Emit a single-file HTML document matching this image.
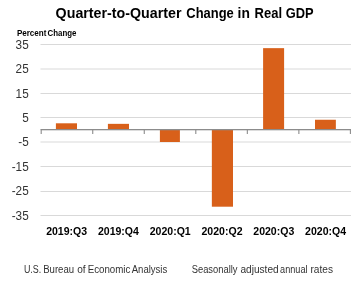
<!DOCTYPE html>
<html><head><meta charset="utf-8"><style>
html,body{margin:0;padding:0;background:#fff;}
svg{display:block;will-change:transform;}
text{font-family:"Liberation Sans",sans-serif;fill:#000;}
.t{font-weight:bold;font-size:15px;}
.pc{font-weight:bold;font-size:8.5px;}
.yl{font-size:12.8px;fill:#333;}
.cl{font-weight:bold;font-size:10.5px;}
.ft{font-size:10px;fill:#333;}
</style></head><body>
<svg width="361" height="282" viewBox="0 0 361 282">
<rect width="361" height="282" fill="#fff"/>
<text x="55.6" y="17.65" class="t" textLength="125.9" lengthAdjust="spacingAndGlyphs">Quarter-to-Quarter</text>
<text x="186.3" y="17.65" class="t" textLength="47.45" lengthAdjust="spacingAndGlyphs">Change</text>
<text x="237.55" y="17.65" class="t" textLength="12.3" lengthAdjust="spacingAndGlyphs">in</text>
<text x="254.6" y="17.65" class="t" textLength="27.47" lengthAdjust="spacingAndGlyphs">Real</text>
<text x="285.8" y="17.65" class="t" textLength="27.86" lengthAdjust="spacingAndGlyphs">GDP</text>
<text x="16.9" y="35.6" class="pc" textLength="29.5" lengthAdjust="spacingAndGlyphs">Percent</text>
<text x="47.6" y="35.6" class="pc" textLength="28.9" lengthAdjust="spacingAndGlyphs">Change</text>
<rect x="40.5" y="44" width="310.5" height="1" fill="#d9d9d9"/>
<rect x="40.5" y="68" width="310.5" height="2" fill="#ececec"/>
<rect x="40.5" y="93" width="310.5" height="1" fill="#d9d9d9"/>
<rect x="40.5" y="117" width="310.5" height="1" fill="#d9d9d9"/>
<rect x="40.5" y="141" width="310.5" height="2" fill="#ececec"/>
<rect x="40.5" y="166" width="310.5" height="1" fill="#d9d9d9"/>
<rect x="40.5" y="191" width="310.5" height="1" fill="#d9d9d9"/>
<rect x="40.5" y="215" width="310.5" height="1" fill="#d9d9d9"/>
<rect x="55.9" y="123.3" width="21.10" height="6.60" fill="#d8601a"/>
<rect x="107.9" y="123.85" width="21.10" height="6.05" fill="#d8601a"/>
<rect x="159.9" y="129.9" width="20.00" height="12.10" fill="#d8601a"/>
<rect x="211.85" y="129.9" width="21.15" height="76.80" fill="#d8601a"/>
<rect x="263.1" y="48.15" width="21.00" height="81.75" fill="#d8601a"/>
<rect x="315.0" y="119.75" width="20.85" height="10.15" fill="#d8601a"/>
<rect x="40.7" y="129" width="310.2" height="1.3" fill="#8c8c8c"/>
<rect x="40.65" y="129" width="1.1" height="5" fill="#8c8c8c"/>
<rect x="92.18" y="129" width="1.1" height="5" fill="#8c8c8c"/>
<rect x="143.72" y="129" width="1.1" height="5" fill="#8c8c8c"/>
<rect x="195.25" y="129" width="1.1" height="5" fill="#8c8c8c"/>
<rect x="246.78" y="129" width="1.1" height="5" fill="#8c8c8c"/>
<rect x="298.32" y="129" width="1.1" height="5" fill="#8c8c8c"/>
<rect x="349.85" y="129" width="1.1" height="5" fill="#8c8c8c"/>
<g transform="translate(28.7 48.70) scale(0.92 1)"><text x="0" y="0" text-anchor="end" class="yl">35</text></g>
<g transform="translate(28.7 73.11) scale(0.92 1)"><text x="0" y="0" text-anchor="end" class="yl">25</text></g>
<g transform="translate(28.7 97.52) scale(0.92 1)"><text x="0" y="0" text-anchor="end" class="yl">15</text></g>
<g transform="translate(28.7 121.93) scale(0.92 1)"><text x="0" y="0" text-anchor="end" class="yl">5</text></g>
<g transform="translate(28.7 146.34) scale(0.92 1)"><text x="0" y="0" text-anchor="end" class="yl">-5</text></g>
<g transform="translate(28.7 170.75) scale(0.92 1)"><text x="0" y="0" text-anchor="end" class="yl">-15</text></g>
<g transform="translate(28.7 195.16) scale(0.92 1)"><text x="0" y="0" text-anchor="end" class="yl">-25</text></g>
<g transform="translate(28.7 219.56) scale(0.92 1)"><text x="0" y="0" text-anchor="end" class="yl">-35</text></g>
<text x="66.65" y="234.6" text-anchor="middle" class="cl" textLength="41" lengthAdjust="spacingAndGlyphs">2019:Q3</text>
<text x="118.44" y="234.6" text-anchor="middle" class="cl" textLength="41" lengthAdjust="spacingAndGlyphs">2019:Q4</text>
<text x="170.23" y="234.6" text-anchor="middle" class="cl" textLength="41" lengthAdjust="spacingAndGlyphs">2020:Q1</text>
<text x="222.02" y="234.6" text-anchor="middle" class="cl" textLength="41" lengthAdjust="spacingAndGlyphs">2020:Q2</text>
<text x="273.81" y="234.6" text-anchor="middle" class="cl" textLength="41" lengthAdjust="spacingAndGlyphs">2020:Q3</text>
<text x="325.60" y="234.6" text-anchor="middle" class="cl" textLength="41" lengthAdjust="spacingAndGlyphs">2020:Q4</text>
<text x="23.9" y="272.9" class="ft" textLength="17.3" lengthAdjust="spacingAndGlyphs">U.S.</text>
<text x="43.2" y="272.9" class="ft" textLength="30.9" lengthAdjust="spacingAndGlyphs">Bureau</text>
<text x="77.2" y="272.9" class="ft" textLength="8.44" lengthAdjust="spacingAndGlyphs">of</text>
<text x="87.7" y="272.9" class="ft" textLength="42.7" lengthAdjust="spacingAndGlyphs">Economic</text>
<text x="131.7" y="272.9" class="ft" textLength="35.6" lengthAdjust="spacingAndGlyphs">Analysis</text>
<text x="191.7" y="272.9" class="ft" textLength="45.8" lengthAdjust="spacingAndGlyphs">Seasonally</text>
<text x="240.4" y="272.9" class="ft" textLength="38.3" lengthAdjust="spacingAndGlyphs">adjusted</text>
<text x="280.1" y="272.9" class="ft" textLength="27.4" lengthAdjust="spacingAndGlyphs">annual</text>
<text x="310.5" y="272.9" class="ft" textLength="22.5" lengthAdjust="spacingAndGlyphs">rates</text>
</svg>
</body></html>
